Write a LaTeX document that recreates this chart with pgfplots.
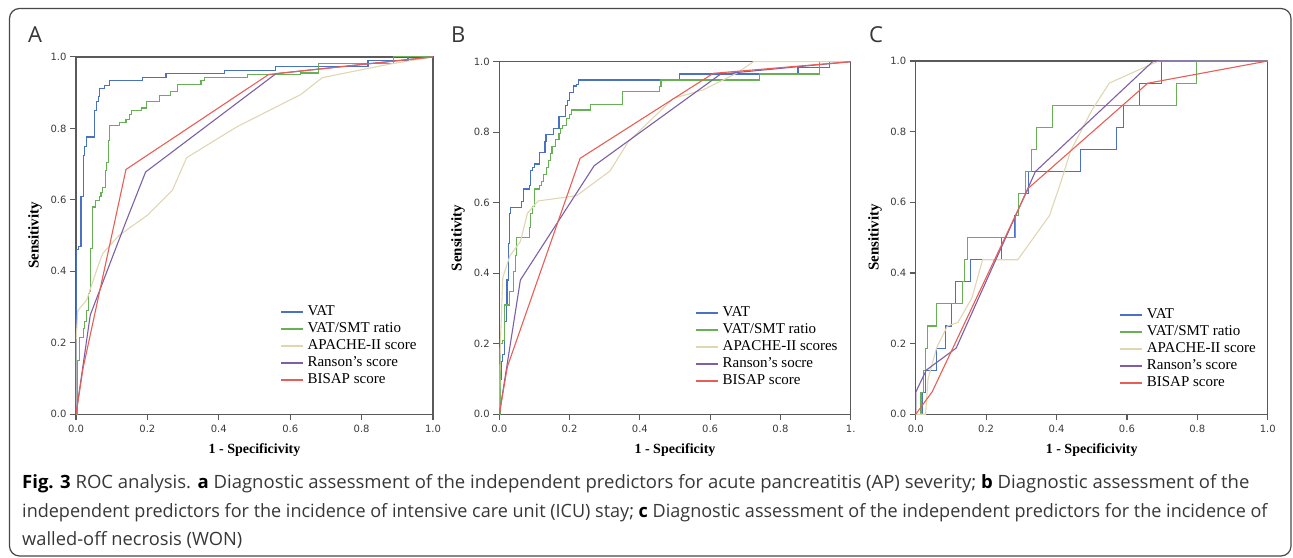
\documentclass[border=0pt]{standalone}
\usepackage{fontspec}
\setmainfont{Liberation Serif}
\newfontfamily\capfont{Open Sans}
\newfontfamily\tickfont{DejaVu Sans}
\usepackage{pgfplots}
\pgfplotsset{compat=1.18}

\definecolor{vatblue}{RGB}{74,114,196}
\definecolor{vatgreen}{RGB}{104,176,86}
\definecolor{apache}{RGB}{224,214,178}
\definecolor{ranson}{RGB}{125,95,165}
\definecolor{bisap}{RGB}{232,94,86}
\definecolor{axgray}{RGB}{90,90,90}
\definecolor{ticktxt}{RGB}{60,60,60}
\definecolor{captext}{RGB}{55,55,55}

\pgfplotsset{
  rocax/.style={
    scale only axis, anchor=south west,
    xmin=0, xmax=1, ymin=0, ymax=1,
    xtick={0,0.2,0.4,0.6,0.8,1}, ytick={0,0.2,0.4,0.6,0.8,1},
    yticklabels={0.0,0.2,0.4,0.6,0.8,1.0},
    tick align=outside, tick pos=left, major tick length=6pt,
    axis line style={line width=1.5pt, color=axgray},
    tick style={line width=1.2pt, color=axgray},
    tick label style={font=\tickfont\fontsize{10}{11}\selectfont, text=ticktxt},
    xticklabel style={yshift=-1pt},
    xlabel style={font=\bfseries\fontsize{14}{16}\selectfont,
      at={(axis description cs:0.5,-0.101)}, anchor=center},
    ylabel style={font=\bfseries\fontsize{15}{17}\selectfont},
    legend cell align=left,
    legend image code/.code={\draw[##1, line width=1.5pt] (0pt,0pt) -- (22pt,0pt);},
    legend style={draw=none, fill=none, inner sep=0pt, anchor=north west,
      font=\fontsize{15}{17}\selectfont, row sep=0pt, column sep=3pt,
      nodes={inner sep=1pt, text height=11pt, text depth=4pt}},
    every axis plot/.append style={line width=1.1pt},
  },
}

\begin{document}
\begin{tikzpicture}
\useasboundingbox (0pt,0pt) rectangle (1293pt,557pt);
\draw[line width=1.2pt, color=axgray!80!black, rounded corners=10pt] (9.5pt,1pt) rectangle (1291pt,548.5pt);

\node[anchor=base west, inner sep=0pt, font=\capfont\fontsize{22}{24}\selectfont, text=captext] at (28pt,514pt) {A};
\node[anchor=base west, inner sep=0pt, font=\capfont\fontsize{22}{24}\selectfont, text=captext] at (451pt,514pt) {B};
\node[anchor=base west, inner sep=0pt, font=\capfont\fontsize{22}{24}\selectfont, text=captext] at (869pt,514pt) {C};

% panel A
\begin{axis}[rocax, at={(76pt,142.7pt)}, width=357pt, height=357.4pt,
  xticklabels={0.0,0.2,0.4,0.6,0.8,1.0},
  xlabel={1 - Specificivity}, ylabel={Sensitivity},
  ylabel style={at={(axis description cs:-0.115,0.5)}, anchor=center},
  legend style={at={(axis description cs:0.571,0.31)}}]
\addplot[vatblue, const plot] coordinates {
(0,0) (0,0.46) (0.0065,0.47) (0.014,0.61) (0.02,0.725) (0.025,0.75) (0.03,0.776)
(0.053,0.851) (0.058,0.874) (0.063,0.89) (0.067,0.911) (0.081,0.921) (0.095,0.934)
(0.187,0.943) (0.252,0.953) (0.417,0.962) (0.56,0.972) (0.818,0.989) (0.93,1) (1,1)};
\addplot[vatgreen, const plot] coordinates {
(0,0) (0.005,0.15) (0.01,0.215) (0.02,0.24) (0.025,0.26) (0.03,0.29) (0.035,0.338)
(0.037,0.345) (0.04,0.464) (0.045,0.58) (0.055,0.599) (0.065,0.61) (0.07,0.62)
(0.075,0.635) (0.082,0.683) (0.086,0.705) (0.09,0.767) (0.095,0.807) (0.122,0.817)
(0.14,0.825) (0.15,0.84) (0.155,0.851) (0.184,0.857) (0.198,0.874) (0.235,0.893)
(0.264,0.903) (0.285,0.924) (0.35,0.933) (0.36,0.942) (0.48,0.952) (0.63,0.955)
(0.68,0.981) (0.89,1) (1,1)};
\addplot[apache] coordinates {
(0,0) (0,0.2) (0.005,0.29) (0.03,0.32) (0.05,0.38) (0.06,0.41) (0.075,0.45)
(0.12,0.5) (0.2,0.557) (0.27,0.627) (0.31,0.718) (0.45,0.804) (0.63,0.895)
(0.69,0.942) (0.88,0.98) (1,1)};
\addplot[ranson] coordinates {
(0,0) (0.04,0.278) (0.14,0.539) (0.195,0.678) (0.56,0.953) (1,1)};
\addplot[bisap] coordinates {
(0,0) (0.02,0.13) (0.14,0.685) (0.54,0.951) (1,1)};
\legend{VAT, VAT/SMT ratio, APACHE-II score, Ranson's score, BISAP score}
\end{axis}

% panel B
\begin{axis}[rocax, at={(499.3pt,142.7pt)}, width=351.4pt, height=352.6pt,
  xticklabels={0.0,0.2,0.4,0.6,0.8,1.},
  xlabel={1 - Specificity}, ylabel={Sensitivity},
  ylabel style={at={(axis description cs:-0.1175,0.5)}, anchor=center},
  legend style={at={(axis description cs:0.557,0.3114)}}]
\addplot[vatblue, const plot] coordinates {
(0,0) (0.002,0.1) (0.005,0.15) (0.01,0.17) (0.015,0.263) (0.02,0.31) (0.022,0.381)
(0.025,0.485) (0.03,0.57) (0.033,0.587) (0.0636,0.603) (0.068,0.639) (0.085,0.65)
(0.09,0.691) (0.095,0.70) (0.1,0.71) (0.115,0.743) (0.13,0.773) (0.133,0.794)
(0.155,0.811) (0.17,0.844) (0.188,0.875) (0.195,0.89) (0.2,0.912) (0.21,0.931)
(0.22,0.935) (0.225,0.948) (0.512,0.965) (0.85,0.983) (0.94,1) (1,1)};
\addplot[vatgreen, const plot] coordinates {
(0,0) (0.003,0.2) (0.01,0.21) (0.015,0.31) (0.03,0.348) (0.04,0.405) (0.045,0.45)
(0.05,0.502) (0.085,0.53) (0.09,0.57) (0.095,0.59) (0.1,0.639) (0.115,0.65)
(0.12,0.66) (0.125,0.68) (0.135,0.70) (0.14,0.72) (0.145,0.74) (0.15,0.759)
(0.16,0.78) (0.17,0.797) (0.175,0.81) (0.18,0.82) (0.19,0.84) (0.2,0.85)
(0.205,0.863) (0.26,0.879) (0.351,0.915) (0.457,0.93) (0.46,0.948) (0.74,0.965)
(0.91,1) (1,1)};
\addplot[apache] coordinates {
(0,0) (0.003,0.2) (0.01,0.388) (0.03,0.449) (0.06,0.49) (0.08,0.57) (0.11,0.605)
(0.22,0.62) (0.315,0.69) (0.367,0.773) (0.495,0.896) (0.58,0.92) (0.675,0.967)
(0.723,1) (1,1)};
\addplot[ranson] coordinates {
(0,0) (0.06,0.381) (0.27,0.705) (0.63,0.965) (1,1)};
\addplot[bisap] coordinates {
(0,0) (0.023,0.135) (0.23,0.726) (0.609,0.967) (1,1)};
\legend{VAT, VAT/SMT ratio, APACHE-II scores, Ranson's socre, BISAP score}
\end{axis}

% panel C
\begin{axis}[rocax, at={(915.7pt,142.7pt)}, width=352pt, height=353.3pt,
  xticklabels={0.0,0.2,0.4,0.6,0.8,1.0},
  xlabel={1 - Specificivity}, ylabel={Sensitivity},
  ylabel style={at={(axis description cs:-0.1156,0.5)}, anchor=center},
  legend style={at={(axis description cs:0.578,0.305)}}]
\addplot[vatblue, const plot] coordinates {
(0,0) (0.02,0.0625) (0.028,0.125) (0.058,0.1875) (0.085,0.25) (0.102,0.3125)
(0.113,0.375) (0.155,0.4375) (0.244,0.5) (0.282,0.5625) (0.291,0.625) (0.32,0.6875)
(0.469,0.75) (0.571,0.8125) (0.59,0.875) (0.637,0.9375) (0.699,1) (1,1)};
\addplot[vatgreen, const plot] coordinates {
(0,0) (0.015,0.0625) (0.022,0.125) (0.028,0.1875) (0.034,0.25) (0.058,0.3125)
(0.133,0.375) (0.138,0.4375) (0.148,0.5) (0.284,0.5625) (0.292,0.625) (0.311,0.6875)
(0.33,0.75) (0.344,0.8125) (0.389,0.875) (0.741,0.9375) (0.798,1) (1,1)};
\addplot[apache] coordinates {
(0,0) (0.028,0) (0.035,0.1) (0.06,0.19) (0.09,0.25) (0.12,0.26) (0.16,0.33)
(0.19,0.4375) (0.29,0.4375) (0.38,0.5625) (0.41,0.65) (0.44,0.745) (0.5,0.86)
(0.55,0.9375) (0.69,1) (1,1)};
\addplot[ranson] coordinates {
(0,0) (0,0.0625) (0.03,0.125) (0.115,0.1875) (0.34,0.687) (0.675,1) (1,1)};
\addplot[bisap] coordinates {
(0,0) (0.047,0.064) (0.32,0.64) (0.659,0.937) (1,1)};
\legend{VAT, VAT/SMT ratio, APACHE-II score, Ranson's score, BISAP score}
\end{axis}

% caption
\begin{scope}[every node/.style={anchor=base west, inner sep=0pt, text=captext,
    font=\capfont\fontsize{18.3}{22}\selectfont}]
\node at (22pt,68pt) {\scalebox{1.012}[1]{\textbf{\color{black}Fig. 3} ROC analysis. \textbf{\color{black}a} Diagnostic assessment of the independent predictors for acute pancreatitis (AP) severity; \textbf{\color{black}b} Diagnostic assessment of the}};
\node at (22pt,39.5pt) {\scalebox{0.985}[1]{independent predictors for the incidence of intensive care unit (ICU) stay; \textbf{\color{black}c} Diagnostic assessment of the independent predictors for the incidence of}};
\node at (22pt,11.5pt) {walled-off necrosis (WON)};
\end{scope}
\end{tikzpicture}
\end{document}
